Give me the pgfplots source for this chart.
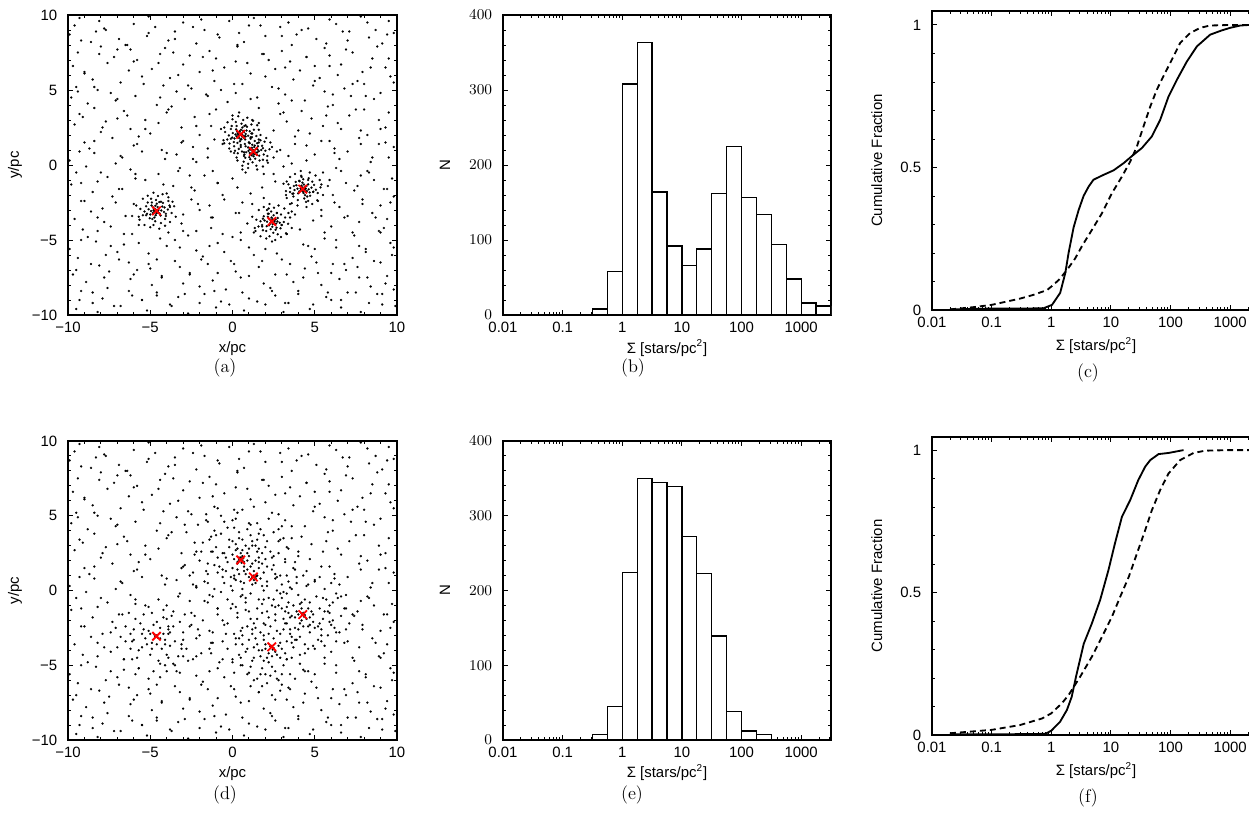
\documentclass[border=0pt]{standalone}
\usepackage{pgfplots}
\pgfplotsset{compat=1.18}
\usepackage{pgfplotstable}
\usepackage{fontspec}
\newfontfamily\hel{Liberation Sans}

\pgfplotstableread[row sep=\\]{x y\\
-9.6 9.3\\ -9.3 9.8\\ -8.1 9.6\\ -7.8 9.1\\ -6.0 9.4\\ -5.1 9.9\\ -4.7 9.2\\ -3.0 9.5\\ -1.9 9.7\\ -1.7 9.0\\ -0.2 9.6\\ 1.0 9.3\\ 1.3 9.8\\ 2.9 9.2\\ 3.4 9.5\\ 4.6 9.1\\ 5.9 9.7\\ 6.3 9.4\\ 7.8 9.9\\ 8.7 9.0\\ 9.5 9.6\\
-9.9 8.7\\ -8.6 8.2\\ -8.3 8.9\\ -6.9 8.4\\ -6.5 8.0\\ -5.2 8.6\\ -3.9 8.3\\ -3.5 8.9\\ -2.2 8.1\\ -0.8 8.5\\ 0.4 8.8\\ 0.7 8.2\\ 2.0 8.6\\ 3.6 8.0\\ 3.9 8.7\\ 5.1 8.4\\ 6.7 8.9\\ 7.0 8.3\\ 8.3 8.5\\ 9.1 8.1\\ 9.8 8.8\\
-9.4 7.5\\ -8.0 7.9\\ -7.2 7.2\\ -7.0 7.7\\ -5.8 7.0\\ -4.4 7.4\\ -4.1 7.8\\ -2.6 7.3\\ -1.4 7.6\\ -1.0 7.1\\ 0.3 7.9\\ 1.8 7.4\\ 2.2 7.0\\ 3.0 7.6\\ 4.5 7.2\\ 5.6 7.8\\ 5.9 7.3\\ 7.3 7.5\\ 8.5 7.1\\ 8.8 7.9\\
-9.7 6.6\\ -9.0 6.1\\ -7.6 6.8\\ -6.3 6.3\\ -6.0 6.9\\ -4.9 6.4\\ -3.3 6.0\\ -3.0 6.7\\ -2.0 6.2\\ -0.5 6.5\\ 0.9 6.8\\ 1.1 6.1\\ 2.6 6.4\\ 3.5 6.9\\ 4.1 6.3\\ 5.0 6.6\\ 6.4 6.0\\ 6.6 6.7\\ 7.9 6.2\\ 9.3 6.5\\
-9.5 5.2\\ -8.5 5.7\\ -8.2 5.0\\ -6.8 5.5\\ -5.5 5.9\\ -4.2 5.3\\ -3.8 5.8\\ -2.5 5.1\\ -1.1 5.6\\ -0.7 5.0\\ 0.6 5.4\\ 2.0 5.9\\ 2.4 5.2\\ 3.7 5.7\\ 4.9 5.3\\ 5.3 5.8\\ 6.8 5.1\\ 7.6 5.6\\ 8.0 5.4\\ 9.6 5.9\\
-9.8 4.5\\ -8.8 4.1\\ -7.4 4.8\\ -7.1 4.3\\ -5.9 4.6\\ -4.6 4.0\\ -3.4 4.9\\ -2.9 4.4\\ -1.6 4.7\\ -0.3 4.2\\ 0.2 4.8\\ 1.5 4.5\\ 2.8 4.1\\ 3.2 4.7\\ 4.4 4.3\\ 5.6 4.9\\ 6.1 4.0\\ 7.2 4.6\\ 8.6 4.4\\ 9.0 4.8\\
-9.3 3.4\\ -8.4 3.8\\ -7.0 3.1\\ -6.6 3.6\\ -5.3 3.0\\ -4.0 3.5\\ -3.7 3.9\\ -2.3 3.2\\ -1.0 3.7\\ 0.0 3.3\\ 1.2 3.0\\ 1.6 3.8\\ 2.9 3.4\\ 4.2 3.6\\ 4.8 3.1\\ 5.8 3.9\\ 7.1 3.3\\ 7.5 3.7\\ 8.9 3.0\\ 9.5 3.5\\
-9.6 2.7\\ -8.0 2.2\\ -7.7 2.9\\ -6.2 2.4\\ -5.0 2.1\\ -4.5 2.8\\ -3.1 2.5\\ -2.0 2.0\\ -1.3 2.6\\ 2.5 2.3\\ 3.3 2.9\\ 4.7 2.1\\ 5.5 2.6\\ 6.4 2.8\\ 7.8 2.3\\ 8.2 2.0\\ 9.3 2.5\\
-9.0 1.5\\ -8.7 1.1\\ -7.3 1.8\\ -6.0 1.3\\ -5.7 1.9\\ -4.3 1.0\\ -3.0 1.6\\ -2.4 1.2\\ -1.1 1.7\\ -0.6 1.4\\ 2.9 1.0\\ 3.8 1.9\\ 4.5 1.3\\ 5.9 1.6\\ 6.2 1.1\\ 7.7 1.8\\ 8.9 1.4\\ 9.8 1.2\\
-9.9 0.3\\ -8.4 0.8\\ -7.1 0.1\\ -6.8 0.6\\ -5.5 0.9\\ -4.1 0.4\\ -3.4 0.7\\ -2.2 0.2\\ -1.5 0.5\\ 0.1 0.8\\ 2.1 0.3\\ 3.4 0.6\\ 3.6 0.1\\ 5.0 0.7\\ 6.5 0.4\\ 7.0 0.9\\ 8.4 0.2\\ 9.5 0.5\\
-9.5 -0.5\\ -8.9 -0.1\\ -7.6 -0.8\\ -6.2 -0.3\\ -5.9 -0.9\\ -4.5 -0.6\\ -3.2 -0.2\\ -2.6 -0.7\\ -1.2 -0.4\\ 0.0 -0.9\\ 0.6 -0.3\\ 1.9 -0.6\\ 3.1 -0.1\\ 4.2 -0.8\\ 5.5 -0.5\\ 6.3 -0.2\\ 7.8 -0.7\\ 8.2 -0.4\\ 9.7 -0.9\\
-9.8 -1.3\\ -8.5 -1.8\\ -8.2 -1.1\\ -6.7 -1.6\\ -5.3 -1.0\\ -4.0 -1.9\\ -3.6 -1.4\\ -2.3 -1.7\\ -0.9 -1.2\\ 0.3 -1.5\\ 1.1 -1.9\\ 2.6 -1.1\\ 3.5 -1.8\\ 5.8 -1.4\\ 6.9 -1.2\\ 7.4 -1.7\\ 8.6 -1.0\\ 9.4 -1.6\\
-9.2 -2.4\\ -7.9 -2.9\\ -7.3 -2.1\\ -6.0 -2.6\\ -3.8 -2.8\\ -2.5 -2.3\\ -1.4 -2.7\\ -0.6 -2.0\\ 0.6 -2.5\\ 1.9 -2.2\\ 2.2 -2.9\\ 3.5 -2.6\\ 5.2 -2.4\\ 6.1 -2.0\\ 6.5 -2.8\\ 7.9 -2.3\\ 9.0 -2.7\\ 9.8 -2.1\\
-9.6 -3.6\\ -8.6 -3.1\\ -7.8 -3.8\\ -6.5 -3.4\\ -3.1 -3.9\\ -2.0 -3.0\\ -1.2 -3.5\\ 0.2 -3.2\\ 0.9 -3.9\\ 3.8 -3.3\\ 4.9 -3.7\\ 5.4 -3.0\\ 6.8 -3.5\\ 7.7 -3.8\\ 8.5 -3.2\\ 9.4 -3.6\\
-9.1 -4.3\\ -8.8 -4.8\\ -7.4 -4.1\\ -6.1 -4.6\\ -5.7 -4.0\\ -4.4 -4.9\\ -3.0 -4.4\\ -2.7 -4.7\\ -1.3 -4.2\\ 0.0 -4.8\\ 0.5 -4.5\\ 1.8 -4.0\\ 3.3 -4.6\\ 4.1 -4.3\\ 5.6 -4.9\\ 6.0 -4.1\\ 7.4 -4.7\\ 8.9 -4.4\\ 9.2 -4.2\\
-9.9 -5.6\\ -8.3 -5.1\\ -7.0 -5.8\\ -6.6 -5.3\\ -5.1 -5.9\\ -4.0 -5.4\\ -3.5 -5.0\\ -2.2 -5.7\\ -0.9 -5.2\\ -0.5 -5.8\\ 1.0 -5.5\\ 2.4 -5.1\\ 2.7 -5.9\\ 4.3 -5.3\\ 5.0 -5.6\\ 6.3 -5.0\\ 7.7 -5.4\\ 8.1 -5.8\\ 9.6 -5.2\\
-9.4 -6.2\\ -8.1 -6.7\\ -7.7 -6.0\\ -6.3 -6.5\\ -5.0 -6.9\\ -4.6 -6.3\\ -3.2 -6.8\\ -1.8 -6.1\\ -1.5 -6.6\\ -0.1 -6.4\\ 1.3 -6.0\\ 1.6 -6.8\\ 3.0 -6.3\\ 4.4 -6.9\\ 4.8 -6.1\\ 6.1 -6.6\\ 7.3 -6.2\\ 7.6 -6.8\\ 9.0 -6.5\\ 9.7 -6.0\\
-9.7 -7.3\\ -8.9 -7.8\\ -7.5 -7.1\\ -6.2 -7.6\\ -5.8 -7.0\\ -4.3 -7.4\\ -3.0 -7.9\\ -2.6 -7.2\\ -1.2 -7.7\\ 0.2 -7.1\\ 0.5 -7.5\\ 1.9 -7.9\\ 3.3 -7.3\\ 3.7 -7.8\\ 5.2 -7.2\\ 6.5 -7.6\\ 6.9 -7.0\\ 8.2 -7.5\\ 9.3 -7.9\\
-9.2 -8.4\\ -7.9 -8.9\\ -7.6 -8.2\\ -6.1 -8.7\\ -4.9 -8.0\\ -4.6 -8.5\\ -3.3 -8.8\\ -2.0 -8.1\\ -1.7 -8.6\\ -0.4 -8.3\\ 1.0 -8.9\\ 2.3 -8.2\\ 2.6 -8.7\\ 4.0 -8.4\\ 5.4 -8.0\\ 5.7 -8.8\\ 7.0 -8.5\\ 8.4 -8.1\\ 8.8 -8.6\\ 9.8 -8.3\\
-9.5 -9.6\\ -8.5 -9.2\\ -8.2 -9.8\\ -6.8 -9.4\\ -5.5 -9.0\\ -5.2 -9.7\\ -3.8 -9.3\\ -2.7 -9.9\\ -1.0 -9.5\\ -0.7 -9.1\\ 0.7 -9.7\\ 2.0 -9.3\\ 3.1 -9.8\\ 3.4 -9.2\\ 4.7 -9.6\\ 6.0 -9.0\\ 6.6 -9.5\\ 7.8 -9.8\\ 9.1 -9.3\\
-9.2 8.3\\ -7.7 9.0\\ -6.4 8.0\\ -5.1 8.8\\ -3.5 8.4\\ -2.4 9.2\\ -0.9 8.7\\ 0.3 8.0\\ 1.7 9.3\\ 3.0 8.6\\ 4.2 9.0\\ 5.7 8.1\\ 7.1 8.9\\ 8.2 9.5\\ 9.4 8.7\\
-9.0 6.2\\ -8.1 7.4\\ -6.2 7.7\\ -4.5 6.8\\ -3.6 7.5\\ -1.8 7.2\\ -1.2 6.3\\ 0.2 6.9\\ 1.9 7.4\\ 3.2 6.5\\ 4.5 7.2\\ 5.9 6.6\\ 6.9 7.7\\ 8.4 6.5\\ 9.5 7.1\\
-9.4 4.9\\ -8.4 5.2\\ -7.0 4.4\\ -5.4 5.4\\ -4.4 4.5\\ -2.7 5.3\\ -1.5 4.6\\ 0.1 5.4\\ 1.1 4.4\\ 2.8 5.1\\ 3.6 4.3\\ 5.0 5.6\\ 6.1 4.7\\ 7.3 5.4\\ 8.1 4.6\\ 9.8 5.5\\
-9.1 3.2\\ -7.9 2.5\\ -6.4 3.3\\ -5.3 2.4\\ -3.9 3.7\\ -2.2 2.6\\ -1.4 3.4\\ -0.5 2.5\\ 0.4 3.5\\ 1.6 2.8\\ 3.1 3.5\\ 4.0 2.3\\ 5.7 3.3\\ 6.6 2.4\\ 8.0 3.7\\ 9.0 2.4\\
-9.3 0.9\\ -8.4 1.6\\ -6.7 0.5\\ -5.8 1.4\\ -4.0 0.8\\ -3.1 1.5\\ -2.4 0.4\\ -1.5 1.1\\ -0.1 0.9\\ 2.7 0.9\\ 3.8 1.4\\ 4.5 0.3\\ 5.4 1.6\\ 6.2 0.8\\ 7.8 1.4\\ 8.5 0.5\\ 9.3 1.5\\
-9.2 -1.2\\ -8.0 -0.5\\ -6.9 -1.6\\ -5.9 -0.6\\ -4.2 -1.3\\ -3.3 -0.4\\ -2.5 -1.5\\ -1.7 -0.7\\ -0.9 -1.2\\ 0.8 -0.5\\ 1.8 -1.5\\ 2.5 -0.6\\ 3.3 -1.1\\ 5.9 -1.0\\ 6.6 -0.4\\ 7.6 -1.4\\ 8.3 -0.5\\ 9.2 -1.6\\
-9.0 -2.4\\ -8.2 -3.5\\ -7.1 -2.5\\ -6.1 -3.4\\ -3.9 -2.4\\ -3.0 -3.3\\ -2.1 -2.6\\ -1.3 -3.5\\ -0.5 -2.3\\ 0.4 -3.2\\ 1.2 -2.6\\ 3.6 -3.1\\ 4.6 -2.4\\ 5.4 -3.4\\ 6.2 -2.5\\ 7.0 -3.4\\ 7.9 -2.6\\ 8.7 -3.5\\ 9.6 -2.5\\
-9.2 -5.0\\ -8.2 -4.4\\ -7.4 -5.4\\ -6.6 -4.6\\ -5.7 -5.2\\ -3.9 -4.5\\ -3.2 -5.5\\ -2.2 -4.4\\ -1.4 -5.4\\ -0.6 -4.6\\ 0.5 -5.0\\ 1.3 -4.5\\ 2.0 -5.6\\ 3.3 -4.6\\ 4.6 -5.4\\ 5.6 -4.5\\ 6.3 -5.5\\ 7.3 -4.5\\ 8.1 -5.6\\ 9.0 -4.5\\ 9.8 -5.5\\
-9.5 -7.0\\ -8.6 -6.6\\ -7.8 -7.5\\ -6.9 -6.3\\ -6.0 -7.3\\ -5.1 -6.6\\ -4.3 -7.5\\ -3.5 -6.4\\ -2.6 -7.3\\ -1.9 -6.3\\ -0.9 -7.2\\ 0.1 -6.6\\ 1.0 -7.4\\ 1.8 -6.4\\ 2.6 -7.3\\ 3.5 -6.6\\ 4.3 -7.5\\ 5.1 -6.5\\ 6.0 -7.2\\ 6.8 -6.6\\ 7.7 -7.5\\ 8.6 -6.4\\ 9.4 -7.4\\
-9.3 -9.0\\ -8.5 -8.5\\ -7.2 -9.4\\ -6.3 -8.4\\ -5.5 -9.0\\ -4.6 -8.7\\ -3.7 -9.4\\ -2.9 -8.6\\ -2.0 -9.2\\ -1.1 -8.4\\ -0.2 -9.3\\ 0.6 -8.5\\ 1.5 -9.1\\ 2.4 -8.4\\ 3.2 -9.2\\ 4.0 -8.6\\ 4.9 -9.3\\ 5.8 -8.5\\ 6.6 -9.0\\ 7.5 -8.5\\ 8.3 -9.2\\ 9.1 -8.6\\ 9.9 -9.4\\
}\field

\pgfplotstableread[row sep=\\]{x y\\
0.55 2.07\\ 0.42 2.15\\ 0.62 1.98\\ 0.35 2.00\\ 0.70 2.20\\ 0.28 2.23\\ 0.68 1.83\\ 0.40 1.80\\ 0.80 2.07\\ 0.18 2.03\\ 0.52 2.35\\ 0.54 1.72\\ 0.85 2.30\\ 0.22 2.37\\ 0.77 1.70\\ 0.12 1.77\\ 0.95 1.95\\ 0.02 2.13\\ 0.60 2.50\\ 0.45 1.58\\ 1.05 2.25\\ -0.02 1.83\\ 0.72 2.60\\ 0.30 1.47\\ 1.10 1.75\\ -0.10 2.40\\ 0.88 2.55\\ 0.08 1.53\\ 1.20 2.10\\ -0.22 1.97\\ 0.55 2.75\\ 0.50 1.33\\ 1.00 1.50\\ -0.05 2.60\\ 1.30 2.35\\ -0.32 1.70\\ 0.80 1.25\\ 0.20 2.87\\ 1.45 1.93\\ -0.45 2.20\\ 0.65 3.00\\ 0.38 1.07\\ 1.15 2.70\\ -0.18 1.43\\ 0.58 1.90\\ 0.32 2.10\\ 0.64 2.27\\ 0.25 1.91\\ 0.75 1.93\\ 0.44 2.25\\
1.6 2.35\\ -0.55 1.65\\ 0.9 3.15\\ 0.15 0.95\\ 1.35 1.3\\ -0.3 2.85\\ 1.7 1.65\\ -0.7 2.4\\ 0.7 0.85\\ 0.35 3.25\\ 1.25 2.95\\ -0.2 1.1\\ 1.5 2.65\\ -0.5 1.45\\ 1.05 1.05\\ 0.0 3.05\\ 0.8 2.65\\ -0.1 1.75\\ 1.1 1.85\\ 0.25 2.6\\
1.32 0.95\\ 1.40 0.82\\ 1.23 1.02\\ 1.25 0.75\\ 1.45 1.10\\ 1.48 0.68\\ 1.08 1.08\\ 1.05 0.80\\ 1.32 1.20\\ 1.28 0.58\\ 1.60 0.92\\ 0.97 0.94\\ 1.55 1.25\\ 1.62 0.62\\ 0.95 1.17\\ 1.02 0.52\\ 1.20 1.35\\ 1.38 0.42\\ 1.75 1.00\\ 0.83 0.85\\ 1.50 1.45\\ 1.08 0.38\\ 1.85 1.12\\ 0.72 0.70\\ 1.00 1.50\\ 1.65 0.30\\ 1.80 1.28\\ 0.78 0.48\\ 1.35 1.60\\ 1.22 0.18\\ 2.00 0.95\\ 0.58 0.90\\ 0.75 1.40\\ 1.85 0.35\\ 1.60 1.70\\ 0.95 0.08\\ 0.50 1.20\\ 2.12 0.60\\ 1.18 1.85\\ 1.45 -0.05\\ 2.25 1.05\\ 0.32 0.78\\ 1.95 1.55\\ 0.68 0.22\\ 1.15 0.98\\ 1.35 0.72\\ 1.52 1.04\\ 1.16 0.65\\ 1.18 1.15\\ 1.50 0.84\\
2.4 1.2\\ 0.25 0.5\\ 1.7 2.0\\ 0.95 -0.2\\ 2.15 0.15\\ 0.5 1.7\\ 2.5 0.5\\ 0.1 1.25\\ 1.5 -0.3\\ 1.15 2.1\\ 2.05 1.8\\ 0.6 -0.05\\ 2.3 1.5\\ 0.3 0.3\\ 1.85 -0.1\\ 0.8 1.9\\ 1.6 1.5\\ 0.7 0.6\\ 1.9 0.7\\ 1.05 1.45\\
4.36 -1.62\\ 4.21 -1.69\\ 4.43 -1.54\\ 4.14 -1.56\\ 4.52 -1.74\\ 4.06 -1.76\\ 4.50 -1.40\\ 4.19 -1.38\\ 4.63 -1.62\\ 3.95 -1.58\\ 4.32 -1.87\\ 4.34 -1.30\\ 4.69 -1.83\\ 3.99 -1.89\\ 4.60 -1.29\\ 3.88 -1.35\\ 4.80 -1.51\\ 3.77 -1.67\\ 4.41 -2.01\\ 4.25 -1.18\\ 4.91 -1.78\\ 3.73 -1.40\\ 4.54 -2.10\\ 4.08 -1.08\\ 4.96 -1.33\\ 3.64 -1.92\\ 4.72 -2.05\\ 3.84 -1.13\\ 5.07 -1.65\\ 3.51 -1.53\\ 4.36 -2.23\\ 4.30 -0.95\\ 4.85 -1.11\\ 3.70 -2.10\\ 5.18 -1.87\\ 3.40 -1.29\\ 4.63 -0.88\\ 3.97 -2.34\\ 5.35 -1.49\\ 3.25 -1.74\\ 4.47 -2.46\\ 4.17 -0.72\\ 4.25 -1.50\\ 4.38 -1.72\\ 4.18 -1.65\\ 4.45 -1.58\\ 4.28 -1.78\\ 4.40 -1.45\\
5.4 -1.3\\ 3.25 -2.0\\ 4.7 -0.5\\ 3.95 -2.7\\ 5.15 -2.35\\ 3.5 -0.8\\ 5.5 -2.0\\ 3.1 -1.25\\ 4.5 -2.8\\ 4.15 -0.4\\ 5.05 -0.7\\ 3.6 -2.55\\ 5.3 -1.0\\ 3.3 -2.2\\ 4.85 -2.6\\ 3.8 -0.6\\ 4.6 -1.0\\ 3.7 -1.9\\ 4.9 -1.8\\ 4.05 -1.05\\
2.38 -3.75\\ 2.30 -3.88\\ 2.47 -3.68\\ 2.45 -3.95\\ 2.25 -3.60\\ 2.22 -4.02\\ 2.62 -3.62\\ 2.65 -3.90\\ 2.38 -3.50\\ 2.42 -4.12\\ 2.10 -3.78\\ 2.73 -3.76\\ 2.15 -3.45\\ 2.08 -4.08\\ 2.75 -3.53\\ 2.68 -4.18\\ 2.50 -3.35\\ 2.32 -4.28\\ 1.95 -3.70\\ 2.87 -3.85\\ 2.20 -3.25\\ 2.62 -4.32\\ 1.85 -3.58\\ 2.98 -4.00\\ 2.70 -3.20\\ 2.05 -4.40\\ 1.90 -3.42\\ 2.92 -4.22\\ 2.35 -3.10\\ 2.48 -4.52\\ 1.70 -3.75\\ 3.12 -3.80\\ 2.95 -3.30\\ 1.85 -4.35\\ 2.10 -3.00\\ 2.75 -4.62\\ 3.20 -3.50\\ 1.58 -4.10\\ 2.52 -2.85\\ 2.25 -4.75\\ 1.45 -3.65\\ 3.38 -3.92\\ 2.35 -3.70\\ 2.50 -3.85\\ 2.28 -3.92\\ 2.44 -3.62\\ 2.56 -3.74\\ 2.33 -3.82\\
3.5 -3.5\\ 1.35 -4.2\\ 2.8 -2.7\\ 2.05 -4.9\\ 3.25 -4.55\\ 1.6 -3.0\\ 3.6 -4.2\\ 1.2 -3.45\\ 2.6 -5.0\\ 2.25 -2.6\\ 3.15 -2.9\\ 1.7 -4.75\\ 3.4 -3.2\\ 1.4 -4.4\\ 2.95 -4.8\\ 1.9 -2.8\\ 2.7 -3.2\\ 1.8 -4.1\\ 3.0 -4.0\\ 2.15 -3.25\\
-4.70 -3.07\\ -4.57 -3.15\\ -4.77 -2.98\\ -4.50 -3.00\\ -4.85 -3.20\\ -4.43 -3.23\\ -4.83 -2.83\\ -4.55 -2.80\\ -4.95 -3.07\\ -4.33 -3.03\\ -4.67 -3.35\\ -4.69 -2.72\\ -5.00 -3.30\\ -4.37 -3.37\\ -4.92 -2.70\\ -4.27 -2.77\\ -5.10 -2.95\\ -4.17 -3.13\\ -4.75 -3.50\\ -4.60 -2.58\\ -5.20 -3.25\\ -4.13 -2.83\\ -4.87 -3.60\\ -4.45 -2.47\\ -5.25 -2.75\\ -4.05 -3.40\\ -5.03 -3.55\\ -4.23 -2.53\\ -5.35 -3.10\\ -3.93 -2.97\\ -4.70 -3.75\\ -4.65 -2.33\\ -5.15 -2.50\\ -4.10 -3.60\\ -5.45 -3.35\\ -3.83 -2.70\\ -4.95 -2.25\\ -4.35 -3.87\\ -5.60 -2.93\\ -3.70 -3.20\\ -4.80 -4.00\\ -4.53 -2.07\\ -4.60 -3.00\\ -4.75 -3.12\\ -4.55 -3.10\\ -4.72 -2.92\\ -4.62 -3.22\\ -4.80 -3.02\\
-3.55 -2.75\\ -5.7 -3.45\\ -4.25 -1.95\\ -5.0 -4.15\\ -3.8 -3.8\\ -5.45 -2.25\\ -3.45 -3.45\\ -5.85 -2.7\\ -4.45 -4.25\\ -4.8 -1.85\\ -3.9 -2.15\\ -5.35 -4.0\\ -3.65 -2.45\\ -5.65 -3.65\\ -4.1 -4.05\\ -5.15 -2.05\\ -4.35 -2.45\\ -5.25 -3.35\\ -4.05 -3.25\\ -4.9 -2.5\\
}\clustA

\pgfplotstableread[row sep=\\]{x y\\
-1.8 3.2\\ -1.2 2.6\\ -0.7 3.8\\ -0.2 2.9\\ 0.1 4.2\\ 0.6 3.4\\ 1.0 4.5\\ 1.4 3.0\\ 1.9 3.7\\ 2.3 2.6\\ 2.8 3.3\\ 3.2 2.1\\ -1.5 1.8\\ -0.9 1.2\\ -0.4 2.2\\ 0.0 1.5\\ 0.3 2.8\\ 0.9 2.5\\ 1.6 2.2\\ 2.1 1.6\\ 2.6 1.1\\ 3.0 0.4\\ -1.7 0.6\\ -1.1 0.1\\ -0.6 0.9\\ -0.1 0.3\\ 0.4 1.1\\ 0.7 0.5\\ 1.1 -0.2\\ 1.8 0.3\\ 2.2 -0.5\\ 2.7 0.0\\ -0.3 -0.6\\ 0.2 -1.1\\ 0.8 -0.8\\ 1.5 -1.2\\ -2.3 2.4\\ -2.6 1.0\\ -0.5 4.6\\ 0.4 3.9\\ 1.7 4.1\\ 2.5 3.9\\ 3.4 2.8\\ 3.7 1.5\\ -1.3 3.6\\ 0.8 3.0\\ 1.2 1.8\\ 1.9 1.2\\ 0.0 2.4\\ -0.8 1.6\\ 0.6 0.1\\ 1.4 0.5\\ 2.4 2.2\\ -0.2 3.4\\ 1.1 3.7\\ 2.0 2.9\\ 0.3 1.8\\ 0.9 1.4\\ 1.7 0.8\\ -1.0 2.9\\ 0.2 0.7\\ 1.3 1.3\\ 0.7 1.6\\ 0.1 2.1\\ 1.0 0.9\\ 2.1 0.6\\ 1.5 2.6\\ -0.6 2.5\\ 0.5 2.5\\ 1.8 1.8\\ 0.9 2.0\\ 0.3 1.4\\ 1.2 0.4\\ 0.6 2.3\\ 1.6 1.5\\ 0.8 1.1\\ 1.9 0.0\\ 0.0 0.0\\ -0.4 1.3\\ 2.4 1.4\\ 1.4 2.0\\ 0.2 2.7\\ 0.7 1.9\\ 1.1 1.6\\ 0.4 2.2\\ 1.5 1.0\\ 1.0 2.3\\ 0.6 2.7\\ 0.3 1.9\\ 1.3 0.7\\
3.0 -0.5\\ 3.5 0.2\\ 4.0 -0.3\\ 4.6 0.4\\ 5.1 -0.4\\ 5.6 0.1\\ 6.1 -0.8\\ 3.2 -1.4\\ 3.7 -1.0\\ 4.1 -0.9\\ 4.7 -0.8\\ 5.3 -1.2\\ 5.9 -1.5\\ 6.4 -0.5\\ 3.3 -2.2\\ 3.8 -1.8\\ 4.3 -2.4\\ 4.9 -2.1\\ 5.4 -2.6\\ 6.0 -2.3\\ 6.6 -1.7\\ 3.5 -2.9\\ 4.1 -3.1\\ 4.7 -2.8\\ 5.2 -3.3\\ 5.8 -3.0\\ 4.4 -3.6\\ 5.0 -3.9\\ 3.9 -1.4\\ 4.6 -1.2\\ 4.9 -1.6\\ 3.6 -1.7\\ 4.2 -2.0\\ 4.7 -2.3\\ 5.5 -1.9\\ 4.0 -2.6\\ 6.3 -2.8\\ 5.7 -0.6\\ 3.1 -1.9\\ 4.4 -0.6\\ 5.0 0.6\\ 3.9 0.5\\ 5.3 -2.2\\ 4.5 -1.9\\ 4.0 -1.6\\ 4.8 -1.4\\ 4.2 -1.2\\ 6.8 -1.2\\ 7.1 -2.2\\
0.5 -2.7\\ 1.0 -3.3\\ 1.4 -2.5\\ 1.9 -3.0\\ 2.3 -2.4\\ 2.9 -2.9\\ 3.3 -3.4\\ 0.8 -4.1\\ 1.3 -3.8\\ 1.7 -4.4\\ 2.0 -3.6\\ 2.7 -4.3\\ 3.0 -3.9\\ 3.6 -4.5\\ 0.6 -5.0\\ 1.2 -4.7\\ 1.8 -5.2\\ 2.2 -4.8\\ 2.6 -5.4\\ 3.1 -5.0\\ 3.5 -5.6\\ 1.5 -5.9\\ 2.1 -6.2\\ 2.8 -6.0\\ 3.4 -6.5\\ 2.4 -7.0\\ 1.9 -3.3\\ 2.5 -3.2\\ 2.9 -3.5\\ 1.6 -4.0\\ 2.2 -4.2\\ 2.8 -3.7\\ 2.1 -4.5\\ 2.6 -4.1\\ 3.2 -4.2\\ 1.4 -3.2\\ 0.2 -3.6\\ 0.0 -4.6\\ 3.9 -3.3\\ 4.1 -4.9\\ 2.3 -5.7\\ 1.1 -6.4\\ 2.0 -3.9\\ 2.7 -2.7\\ 1.7 -2.8\\
-1.5 -0.8\\ -0.9 -1.6\\ -0.3 -2.2\\ 0.3 -1.8\\ 0.9 -2.4\\ 1.5 -1.9\\ 2.1 -1.4\\ 2.6 -2.0\\ 3.0 -1.2\\ -1.2 -2.8\\ -0.6 -3.4\\ 0.1 -2.9\\ 1.3 -2.2\\ 2.0 -2.3\\ 2.4 -1.0\\ 3.4 -0.8\\ 1.0 -1.4\\ -0.1 -1.2\\ 0.6 -3.0\\ -1.8 -2.0\\
-6.5 -2.4\\ -6.0 -3.3\\ -5.6 -2.2\\ -5.2 -3.6\\ -4.8 -2.3\\ -4.3 -3.9\\ -3.9 -2.6\\ -3.5 -3.4\\ -3.0 -2.8\\ -6.2 -3.9\\ -5.8 -4.5\\ -5.0 -4.3\\ -4.5 -4.7\\ -4.0 -4.3\\ -3.6 -4.9\\ -5.4 -1.6\\ -4.9 -1.5\\ -4.2 -1.8\\ -3.7 -1.7\\ -3.2 -2.1\\ -5.5 -2.9\\ -5.1 -2.7\\ -4.4 -2.5\\ -4.1 -3.3\\ -4.9 -3.5\\ -5.3 -3.2\\ -4.6 -3.6\\ -4.2 -2.9\\ -5.0 -2.9\\ -4.4 -3.2\\ -2.8 -3.9\\ -3.3 -4.4\\ -6.8 -3.1\\ -5.7 -5.2\\ -4.8 -5.4\\ -4.1 -5.0\\ -2.6 -2.4\\ -4.6 -2.1\\ -5.9 -1.9\\ -3.8 -3.7\\
0.4 2.1\\ 0.6 2.0\\ 0.5 2.2\\ 0.35 1.95\\ 0.65 2.15\\ 0.55 1.85\\ 1.2 0.9\\ 1.4 0.8\\ 1.3 1.0\\ 1.15 0.8\\ 1.45 0.95\\ 4.2 -1.55\\ 4.4 -1.65\\ 4.3 -1.5\\ 4.35 -1.75\\ 2.3 -3.75\\ 2.5 -3.85\\ 2.4 -3.7\\ 2.45 -3.95\\ -4.6 -3.0\\ -4.7 -3.1\\ -4.55 -3.15\\ -4.75 -2.95\\
-2.8 3.9\\ -2.1 4.4\\ -1.6 5.1\\ -0.9 5.5\\ 0.3 5.2\\ 1.3 5.6\\ 2.2 4.8\\ 3.0 4.3\\ 3.6 3.5\\ 4.0 2.6\\ -2.9 1.7\\ -2.2 0.3\\ -1.4 -0.3\\ -0.7 -0.1\\ 0.5 -0.4\\ 1.6 -0.6\\ 2.9 -0.2\\ 3.9 0.9\\ -1.9 2.6\\ -1.1 4.0\\ 0.0 4.7\\ 0.9 4.1\\ 1.5 3.4\\ 2.1 3.3\\ 2.8 2.5\\ 3.3 1.0\\ -1.6 1.3\\ -0.5 0.5\\ 0.5 0.6\\ 1.8 2.5\\ 0.2 3.1\\ -0.3 1.9\\ 1.0 2.8\\ 2.5 1.7\\ 0.7 1.3\\ 1.6 1.9\\ 0.1 1.0\\ -0.9 2.2\\ 2.0 2.1\\ 1.2 3.3\\
2.6 -1.6\\ 3.1 -2.6\\ 3.6 -3.5\\ 4.4 -4.2\\ 5.6 -3.7\\ 6.3 -3.4\\ 6.9 -2.6\\ 7.3 -1.6\\ 6.9 -0.3\\ 6.0 0.5\\ 5.3 0.9\\ 4.3 1.0\\ 3.3 -0.2\\ 2.8 -1.0\\ 5.0 -2.5\\ 5.6 -1.4\\ 3.4 -1.5\\ 4.7 -1.8\\ 5.9 -2.1\\ 4.1 -2.2\\
-0.3 -3.9\\ 0.1 -5.5\\ 0.9 -5.6\\ 1.6 -6.8\\ 2.9 -6.7\\ 3.8 -5.9\\ 4.4 -5.4\\ 4.6 -3.9\\ 3.8 -2.5\\ 3.2 -2.2\\ 1.2 -2.9\\ 0.6 -3.6\\ 1.1 -5.1\\ 1.7 -5.6\\ 3.0 -5.6\\ 3.7 -3.8\\ 2.4 -4.4\\ 1.9 -4.7\\ 2.9 -4.5\\ 1.5 -3.6\\
-7.4 -2.8\\ -7.0 -3.8\\ -6.6 -4.6\\ -5.9 -5.6\\ -4.4 -5.8\\ -3.4 -5.4\\ -2.4 -4.6\\ -2.2 -3.2\\ -2.9 -1.6\\ -4.0 -1.0\\ -5.1 -1.1\\ -6.3 -1.5\\ -6.2 -2.9\\ -5.5 -3.8\\ -3.6 -2.4\\ -3.1 -3.6\\ -5.4 -2.6\\ -4.1 -3.6\\ -4.9 -3.9\\ -3.9 -2.9\\
-1.9 -4.2\\ -1.4 -3.9\\ -0.8 -4.8\\ 0.4 -4.3\\ -0.4 -2.9\\ 0.8 -1.3\\ 1.8 -0.9\\ 2.6 0.8\\ 3.2 1.9\\ 2.2 -1.8\\
}\clustD

\pgfplotsset{
  every axis/.append style={
    scale only axis, anchor=south west,
    axis line style={line width=0.7bp},
    every tick/.append style={black, line width=0.55bp},
    major tick length=3bp, minor tick length=1.7bp,
    tick align=inside,
    tick label style={font=\hel\fontsize{9}{11}\selectfont},
    label style={font=\hel\fontsize{9}{11}\selectfont},
    every x tick label/.append style={yshift=-0.8bp},
    every y tick label/.append style={xshift=-3bp},
  },
  mscat/.style={width=197.4bp, xmin=-10, xmax=10, ymin=-10, ymax=10,
    xtick={-10,-5,0,5,10}, ytick={-10,-5,0,5,10},
    xticklabels={−10,−5,0,5,10}, yticklabels={−10,−5,0,5,10},
    minor x tick num=4, minor y tick num=4,
    xlabel={x/pc}, ylabel={y/pc},
    xlabel style={at={(axis description cs:0.5,-0.113)}, anchor=center},
    ylabel style={at={(axis description cs:-0.161,0.5)}, anchor=center}},
  mlogx/.style={width=196.8bp, xmin=0.01, xmax=3162.3,
    xtick={0.01,0.1,1,10,100,1000}, xticklabels={0.01,0.1,1,10,100,1000},
    minor xtick={0.02,0.03,0.04,0.05,0.06,0.07,0.08,0.09,0.2,0.3,0.4,0.5,0.6,0.7,0.8,0.9,2,3,4,5,6,7,8,9,20,30,40,50,60,70,80,90,200,300,400,500,600,700,800,900,2000,3000},
    xlabel={Σ [stars/pc\textsuperscript{2}]}},
  mhist/.style={ymin=0, ymax=400, ytick={0,100,200,300,400}, minor y tick num=4,
    ylabel={N},
    xlabel style={at={(axis description cs:0.5,-0.11)}, anchor=center},
    ylabel style={at={(axis description cs:-0.177,0.5)}, anchor=center}},
  mcdf/.style={ymin=0, ytick={0,0.5,1}, yticklabels={0,0.5,1},
    minor ytick={0.1,0.2,0.3,0.4,0.6,0.7,0.8,0.9},
    ylabel={Cumulative Fraction},
    xlabel style={at={(axis description cs:0.5,-0.12)}, anchor=center},
    ylabel style={at={(axis description cs:-0.168,0.5)}, anchor=center}},
  mdots/.style={only marks, mark=*, black, mark size=0.65bp, mark options={line width=0.1bp}},
  mcross/.style={only marks, mark=x, red, mark size=3.6bp, line width=1.1bp},
  mbar/.style={ybar interval, fill=white, draw=black, line width=0.75bp},
  msolid/.style={black, line width=1.1bp, no marks},
  mdash/.style={black, line width=1.1bp, no marks, dash pattern=on 3.6bp off 2.4bp},
}

\begin{document}
\begin{tikzpicture}
% (a)
\begin{axis}[mscat, at={(40.8bp,309.6bp)}, height=180bp]
\addplot[mdots] table {\field};
\addplot[mdots] table {\clustA};
\addplot[mcross] coordinates {(0.50,2.04) (1.27,0.90) (4.27,-1.61) (2.39,-3.77) (-4.62,-3.06)};
\end{axis}
% (b)
\begin{semilogxaxis}[mlogx, mhist, at={(301.8bp,309.6bp)}, height=180bp]
\addplot[mbar] coordinates {(0.31623,8) (0.56234,58) (1,308) (1.7783,363) (3.1623,164) (5.6234,92) (10,66) (17.783,88) (31.623,162) (56.234,225) (100,157) (177.83,134) (316.23,94) (562.34,48) (1000,16) (1778.3,12) (3162.3,12)};
\end{semilogxaxis}
% (c)
\begin{semilogxaxis}[mlogx, mcdf, at={(559.2bp,312.6bp)}, height=179.4bp, ymax=1.049]
\addplot[msolid] coordinates {(0.02,0.002) (0.05,0.004) (0.1,0.005) (0.3,0.005) (0.74,0.006) (1.03,0.018) (1.41,0.06) (1.72,0.13) (1.95,0.2) (2.37,0.29) (2.87,0.35) (3.48,0.40) (4.23,0.433) (5.1,0.457) (7.5,0.474) (11.1,0.49) (16.3,0.515) (24,0.545) (33,0.568) (48.6,0.609) (67,0.667) (92.5,0.749) (128,0.808) (188,0.872) (277,0.925) (462,0.966) (725,0.981) (1000,0.99) (1480,0.998) (2100,1.0) (3000,1.0)};
\addplot[mdash] coordinates {(0.02,0.002) (0.05,0.01) (0.1,0.018) (0.3,0.04) (0.5,0.053) (0.85,0.07) (1.0,0.082) (1.33,0.105) (1.83,0.14) (2.5,0.18) (3.35,0.228) (4.8,0.281) (7.1,0.34) (10.4,0.41) (15.3,0.468) (21.1,0.521) (27.3,0.574) (35.2,0.644) (45.7,0.714) (58.9,0.773) (75.9,0.82) (105,0.878) (145,0.937) (214,0.972) (316,0.99) (457,0.998) (1000,1.0) (3000,1.0)};
\end{semilogxaxis}
% (d)
\begin{axis}[mscat, at={(40.8bp,54.6bp)}, height=179.4bp]
\addplot[mdots] table {\field};
\addplot[mdots] table {\clustD};
\addplot[mcross] coordinates {(0.50,2.04) (1.27,0.90) (4.27,-1.61) (2.39,-3.77) (-4.62,-3.06)};
\end{axis}
% (e)
\begin{semilogxaxis}[mlogx, mhist, at={(301.8bp,54.6bp)}, height=179.4bp]
\addplot[mbar] coordinates {(0.31623,7) (0.56234,45) (1,224) (1.7783,350) (3.1623,344) (5.6234,339) (10,272) (17.783,223) (31.623,139) (56.234,38) (100,12) (177.83,7) (316.23,7)};
\end{semilogxaxis}
% (f)
\begin{semilogxaxis}[mlogx, mcdf, at={(559.2bp,57.6bp)}, height=178.8bp, ymax=1.046]
\addplot[msolid] coordinates {(0.02,0.002) (0.3,0.003) (0.79,0.004) (1.0,0.015) (1.41,0.047) (1.83,0.088) (2.2,0.134) (2.6,0.205) (3.5,0.32) (4.8,0.392) (6.6,0.474) (9.1,0.579) (11.7,0.673) (15.3,0.766) (21.1,0.825) (28.8,0.895) (37.6,0.942) (45.7,0.965) (63,0.986) (92.5,0.99) (165,1.0)};
\addplot[mdash] coordinates {(0.02,0.006) (0.1,0.018) (0.3,0.035) (0.7,0.058) (1.0,0.076) (1.5,0.111) (1.95,0.14) (3.06,0.205) (4.8,0.275) (7.1,0.345) (10.4,0.415) (14.3,0.485) (20,0.556) (27.3,0.637) (37.6,0.719) (48.6,0.789) (67,0.86) (92.5,0.918) (145,0.965) (243,0.99) (380,0.998) (1000,1.0) (3000,1.0)};
\end{semilogxaxis}
% captions
\begin{scope}[every node/.style={font=\fontsize{11}{13}\selectfont}]
\node at (135bp,277.8bp) {(a)};
\node at (379.8bp,277.8bp) {(b)};
\node at (652.8bp,274.8bp) {(c)};
\node at (135bp,21.6bp) {(d)};
\node at (379.2bp,21.6bp) {(e)};
\node at (652.8bp,19.8bp) {(f)};
\end{scope}
\pgfresetboundingbox
\path[use as bounding box] (0,0) rectangle (749.4bp,498.6bp);
\end{tikzpicture}
\end{document}
